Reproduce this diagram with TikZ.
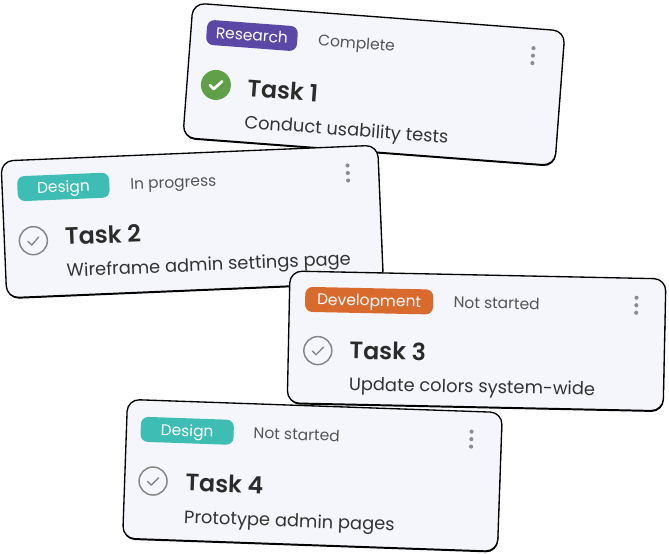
\documentclass[tikz,border=0pt]{standalone}
\usepackage{fontspec}
\setmainfont{Poppins}[BoldFont={Poppins SemiBold}]
\definecolor{cardfill}{HTML}{F5F6FB}
\definecolor{research}{HTML}{5B47A5}
\definecolor{design}{HTML}{3DBDB3}
\definecolor{develop}{HTML}{D96A2D}
\definecolor{donegreen}{HTML}{5FA048}
\definecolor{titlecol}{HTML}{2B2B2B}
\definecolor{desccol}{HTML}{333333}
\definecolor{statuscol}{HTML}{555555}
\definecolor{iconcol}{HTML}{858585}
\definecolor{dotcol}{HTML}{8C8C8C}
\tikzset{
  cardbox/.style={draw=black, line width=1pt, fill=cardfill, rounded corners=9pt},
  cardshadow/.style={fill=black, rounded corners=9pt},
  tagbox/.style={rounded corners=5.5pt, minimum height=18.75pt, inner sep=0pt, text=white,
    font=\fontsize{11.6}{13}\selectfont, text height=8.1pt, text depth=0pt, anchor=west, transform shape},
  statustxt/.style={font=\fontsize{11.6}{13}\selectfont, text=statuscol, anchor=base west, inner sep=0pt, transform shape},
  titletxt/.style={font=\fontsize{17.8}{20}\selectfont\bfseries, text=titlecol, anchor=base west, inner sep=0pt, transform shape},
  desctxt/.style={font=\fontsize{13.4}{16}\selectfont, text=desccol, anchor=base west, inner sep=0pt, transform shape},
  menudot/.style={circle, fill=dotcol, inner sep=0pt, minimum size=3.1pt},
  opencheck/.style={circle, draw=iconcol, line width=1.1pt, minimum size=21pt, inner sep=0pt},
  donecheck/.style={circle, fill=donegreen, minimum size=22.5pt, inner sep=0pt},
  tickgray/.style={draw=iconcol, line width=1pt, line cap=round, line join=round},
  tickwhite/.style={draw=white, line width=2pt, line cap=round, line join=round},
}
\begin{document}
\begin{tikzpicture}[x=0.75pt,y=-0.75pt]
\useasboundingbox (0,0) rectangle (669,554);
\fill[white] (0,0) rectangle (669,554);

% ---------- Card 1 ----------
\begin{scope}[shift={(193,3)}, rotate=-4.3]
  \fill[cardshadow] (0.4,1.3) rectangle (373.4,136.3);
  \draw[cardbox] (0,0) rectangle (373,135);
  \node[tagbox, fill=research, minimum width=68.25pt] (t1tag) at (15.5,28) {Research};
  \node[statustxt] (t1status) at (127.5,33.4) {Complete};
  \node[menudot] (t1d1) at (343,19.5) {};
  \node[menudot] (t1d2) at (343,27) {};
  \node[menudot] (t1d3) at (343,34.5) {};
  \node[donecheck] (t1check) at (29,80) {};
  \draw[tickwhite] (23,80.5) -- (27,84.3) -- (35,76);
  \node[titletxt] (t1title) at (60.5,89.4) {Task 1};
  \node[desctxt] (t1desc) at (60,121) {Conduct usability tests};
\end{scope}

% ---------- Card 2 ----------
\begin{scope}[shift={(1,161)}, rotate=2.4]
  \fill[cardshadow] (0.4,1.3) rectangle (377.4,138.3);
  \draw[cardbox] (0,0) rectangle (377,137);
  \node[tagbox, fill=design, minimum width=69pt] (t2tag) at (15,28.5) {Design};
  \node[statustxt] (t2status) at (128,33.9) {In progress};
  \node[menudot] (t2d1) at (346,19) {};
  \node[menudot] (t2d2) at (346,26.5) {};
  \node[menudot] (t2d3) at (346,34) {};
  \node[opencheck] (t2check) at (29,81) {};
  \draw[tickgray] (23.5,81.5) -- (27.3,85.2) -- (34.5,77.5);
  \node[titletxt] (t2title) at (60.5,86.6) {Task 2};
  \node[desctxt] (t2desc) at (60.8,118.4) {Wireframe admin settings page};
\end{scope}

% ---------- Card 3 ----------
\begin{scope}[shift={(290,271)}, rotate=-1.2]
  \fill[cardshadow] (0.4,1.3) rectangle (376.4,133.3);
  \draw[cardbox] (0,0) rectangle (376,132);
  \node[tagbox, fill=develop, minimum width=96pt] (t3tag) at (15.5,28) {Development};
  \node[statustxt] (t3status) at (164,33.4) {Not started};
  \node[menudot] (t3d1) at (347,19.5) {};
  \node[menudot] (t3d2) at (347,27) {};
  \node[menudot] (t3d3) at (347,34.5) {};
  \node[opencheck] (t3check) at (29.5,79) {};
  \draw[tickgray] (24,79.5) -- (27.8,83.2) -- (35,75.5);
  \node[titletxt] (t3title) at (61,86.7) {Task 3};
  \node[desctxt] (t3desc) at (61,118) {Update colors system-wide};
\end{scope}

% ---------- Card 4 ----------
\begin{scope}[shift={(127.5,399.4)}, rotate=-2.0]
  \fill[cardshadow] (0.4,1.3) rectangle (375.4,140.3);
  \draw[cardbox] (0,0) rectangle (375,139);
  \node[tagbox, fill=design, minimum width=69.75pt] (t4tag) at (14,29.3) {Design};
  \node[statustxt] (t4status) at (127,34.7) {Not started};
  \node[menudot] (t4d1) at (345,20.2) {};
  \node[menudot] (t4d2) at (345,27.7) {};
  \node[menudot] (t4d3) at (345,35.2) {};
  \node[opencheck] (t4check) at (28.4,80.7) {};
  \draw[tickgray] (22.9,81.2) -- (26.7,84.9) -- (33.9,77.2);
  \node[titletxt] (t4title) at (60.7,89.5) {Task 4};
  \node[desctxt] (t4desc) at (60.5,121.9) {Prototype admin pages};
\end{scope}
\end{tikzpicture}
\end{document}
